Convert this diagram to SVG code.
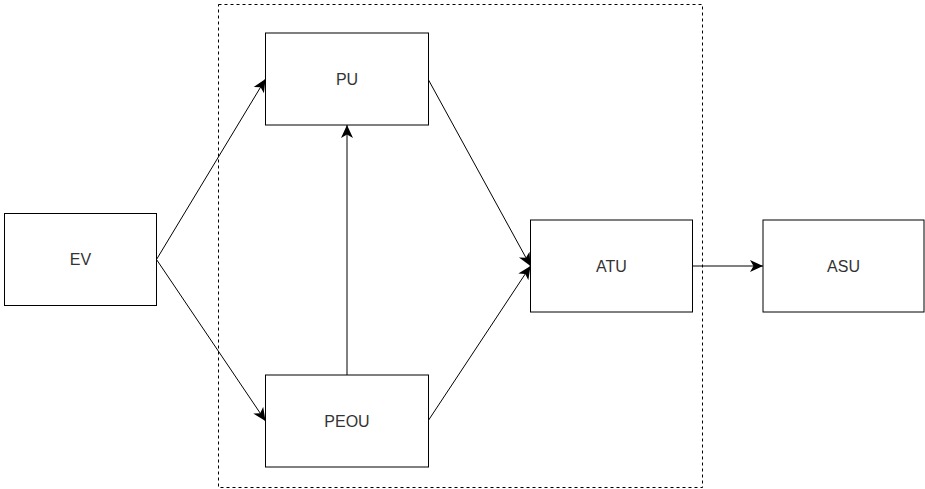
<svg xmlns="http://www.w3.org/2000/svg" width="925" height="489" viewBox="0 0 925 489">
<style>
.box{fill:#fff;stroke:#000;stroke-width:1}
.lbl{font-family:"Liberation Sans",Arial,sans-serif;font-size:16px;fill:#333;text-anchor:middle;dominant-baseline:central}
.edge{fill:none;stroke:#000;stroke-width:1}
.frame{fill:none;stroke:#000;stroke-width:1;stroke-dasharray:3 3}
</style>
<defs>
<marker id="arr" markerUnits="userSpaceOnUse" markerWidth="14" markerHeight="14" viewBox="0 0 14 14" refX="13" refY="7" orient="auto">
<path d="M0,1 L13,7 L0,13 L3.5,7 Z" fill="#000"/>
</marker>
</defs>
<rect id="group-frame" class="frame" x="218.5" y="4.5" width="484" height="483"/>
<g id="connectors">
<path class="edge" marker-end="url(#arr)" d="M156.5,259.5 L265.5,79"/>
<path class="edge" marker-end="url(#arr)" d="M156.5,259.5 L265.5,421"/>
<path class="edge" marker-end="url(#arr)" d="M347,375 L347,125"/>
<path class="edge" marker-end="url(#arr)" d="M428,79 L530.5,266"/>
<path class="edge" marker-end="url(#arr)" d="M428,421 L530.5,266"/>
<path class="edge" marker-end="url(#arr)" d="M692.5,266 L763,266"/>
</g>
<g id="EV"><rect class="box" x="4.5" y="213.5" width="152" height="92"/><text class="lbl" x="80.5" y="259.5">EV</text></g>
<g id="PU"><rect class="box" x="265.5" y="33" width="163" height="92"/><text class="lbl" x="347" y="79">PU</text></g>
<g id="PEOU"><rect class="box" x="265.5" y="375" width="163" height="92"/><text class="lbl" x="347" y="421">PEOU</text></g>
<g id="ATU"><rect class="box" x="530.5" y="220" width="162" height="92"/><text class="lbl" x="611.5" y="266">ATU</text></g>
<g id="ASU"><rect class="box" x="763" y="220" width="161" height="92"/><text class="lbl" x="843.5" y="266">ASU</text></g>
</svg>
